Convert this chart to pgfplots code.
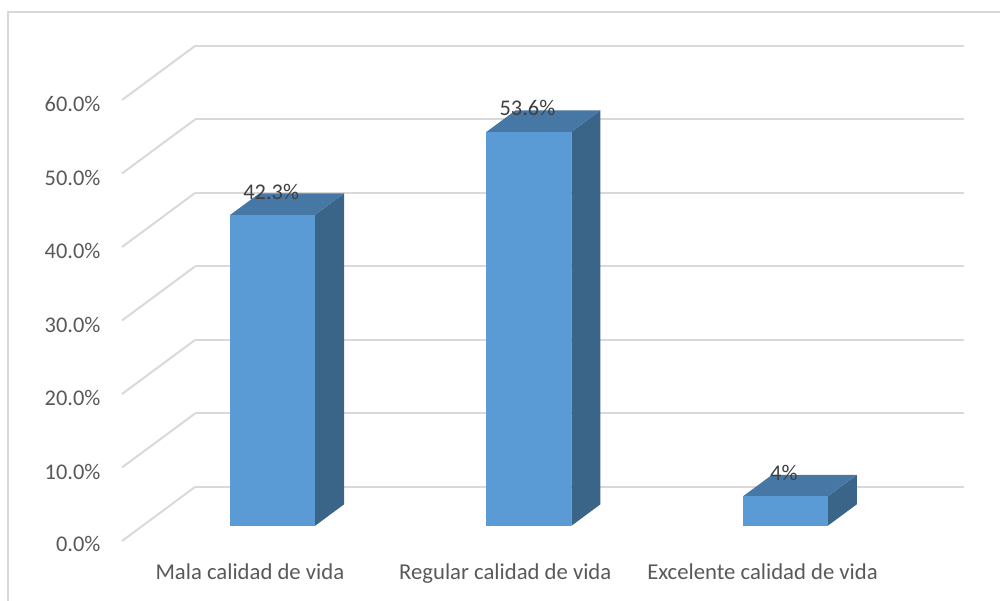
\documentclass[border=0pt]{standalone}
\usepackage{fontspec}
\setmainfont{Carlito}
\usepackage{pgfplots}
\pgfplotsset{compat=1.18}
\definecolor{gridc}{HTML}{D9D9D9}
\definecolor{frontc}{HTML}{5B9BD5}
\definecolor{topc}{HTML}{4677A5}
\definecolor{sidec}{HTML}{3A6488}
\definecolor{tickc}{HTML}{595959}
\definecolor{labc}{HTML}{404040}
\begin{document}
\begin{tikzpicture}[x=1pt,y=1pt]
\useasboundingbox (0,0) rectangle (1000,601);
\draw[gridc,line width=1.4pt] (8,0) -- (8,589) -- (1000,589);
\begin{axis}[
    at={(122pt,60pt)}, anchor=origin,
    x={(256.33pt,0pt)}, y={(73pt,54pt)}, z={(0pt,7.35pt)},
    xmin=0, xmax=3, ymin=0, ymax=1, zmin=0, zmax=60,
    xtick={0.5,1.5,2.5},
    xticklabels={Mala calidad de vida,Regular calidad de vida,Excelente calidad de vida},
    ytick=\empty,
    ztick={0,10,...,60},
    zticklabel={\pgfmathprintnumber[fixed,fixed zerofill,precision=1,assume math mode=true]{\tick}\%},
    xticklabel style={xshift=5.5pt,yshift=-19pt,font=\fontsize{22.7}{24}\selectfont},
    zticklabel style={xshift=-18pt,yshift=6pt,font=\fontsize{22.4}{24}\selectfont},
    xmajorgrids=false, ymajorgrids=false, zmajorgrids=true,
    major grid style={gridc,line width=2pt},
    axis line style={draw=none},
    major tick length=0pt,
    tick label style={text=tickc},
    clip=false,
]
% Mala calidad de vida
\addplot3[fill=sidec,draw=none] coordinates {(0.673,0.28,0) (0.673,0.68,0) (0.673,0.68,42.3) (0.673,0.28,42.3)} -- cycle;
\addplot3[fill=topc,draw=none] coordinates {(0.342,0.28,42.3) (0.673,0.28,42.3) (0.673,0.68,42.3) (0.342,0.68,42.3)} -- cycle;
\addplot3[fill=frontc,draw=none] coordinates {(0.342,0.28,0) (0.673,0.28,0) (0.673,0.28,42.3) (0.342,0.28,42.3)} -- cycle;
% Regular calidad de vida
\addplot3[fill=sidec,draw=none] coordinates {(1.673,0.28,0) (1.673,0.68,0) (1.673,0.68,53.6) (1.673,0.28,53.6)} -- cycle;
\addplot3[fill=topc,draw=none] coordinates {(1.342,0.28,53.6) (1.673,0.28,53.6) (1.673,0.68,53.6) (1.342,0.68,53.6)} -- cycle;
\addplot3[fill=frontc,draw=none] coordinates {(1.342,0.28,0) (1.673,0.28,0) (1.673,0.28,53.6) (1.342,0.28,53.6)} -- cycle;
% Excelente calidad de vida
\addplot3[fill=sidec,draw=none] coordinates {(2.673,0.28,0) (2.673,0.68,0) (2.673,0.68,4) (2.673,0.28,4)} -- cycle;
\addplot3[fill=topc,draw=none] coordinates {(2.342,0.28,4) (2.673,0.28,4) (2.673,0.68,4) (2.342,0.68,4)} -- cycle;
\addplot3[fill=frontc,draw=none] coordinates {(2.342,0.28,0) (2.673,0.28,0) (2.673,0.28,4) (2.342,0.28,4)} -- cycle;
% etiquetas
\node[text=labc,font=\fontsize{22.4}{24}\selectfont,yshift=23.5pt,xshift=-1.5pt] at (axis cs:0.508,0.28,42.3) {42.3\%};
\node[text=labc,font=\fontsize{22.4}{24}\selectfont,yshift=23.5pt,xshift=-1.5pt] at (axis cs:1.508,0.28,53.6) {53.6\%};
\node[text=labc,font=\fontsize{22.4}{24}\selectfont,yshift=23.5pt,xshift=-1.5pt] at (axis cs:2.508,0.28,4) {4\%};
\end{axis}
\end{tikzpicture}
\end{document}
